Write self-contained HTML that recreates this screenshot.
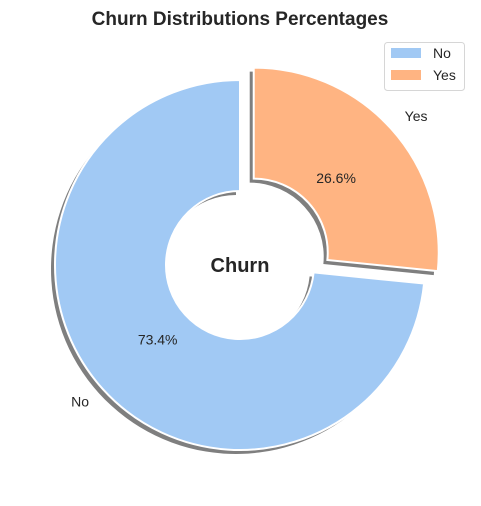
<!DOCTYPE html>
<html><head><meta charset="utf-8"><style>
body{margin:0;background:#fff;}
svg{display:block;font-family:"Liberation Sans","DejaVu Sans",sans-serif;}
</style></head><body>
<svg id="chart" width="481" height="506" viewBox="0 0 481 506">
<text x="240" y="25" text-anchor="middle" font-size="19" font-weight="bold" fill="#262626">Churn Distributions Percentages</text>
<g id="shadows"></g>
<g id="slices"></g>
<g id="labels"></g>
<text x="240" y="272" text-anchor="middle" font-size="20" font-weight="bold" fill="#262626">Churn</text>
<g>
<rect x="384.5" y="42.5" width="80" height="48" rx="3" fill="#fff" stroke="#d6d6d6"/>
<g><rect x="391" y="48" width="30" height="10" fill="#a1c9f4"/><text x="433" y="58" font-size="14" fill="#262626">No</text></g>
<g><rect x="391" y="70" width="30" height="10" fill="#ffb482"/><text x="433" y="80" font-size="14" fill="#262626">Yes</text></g>
</g>
</svg>
<script>
const categories = ["No", "Yes"];
const values = [73.4, 26.6];
const colors = ["#a1c9f4", "#ffb482"];
const explode = [0, 0.1];
const cx = 240, cy = 265, R = 185, r = 74;
const NS = "http://www.w3.org/2000/svg";
const total = values.reduce((a,b)=>a+b,0);
function pt(a, rad, ox, oy){ return [ox + rad*Math.cos(a*Math.PI/180), oy - rad*Math.sin(a*Math.PI/180)]; }
function wedge(a0, a1, ox, oy){
  const large = (a1-a0) > 180 ? 1 : 0;
  const p0 = pt(a0,R,ox,oy), p1 = pt(a1,R,ox,oy), q1 = pt(a1,r,ox,oy), q0 = pt(a0,r,ox,oy);
  return `M${p0[0]},${p0[1]} A${R},${R} 0 ${large} 0 ${p1[0]},${p1[1]} L${q1[0]},${q1[1]} A${r},${r} 0 ${large} 1 ${q0[0]},${q0[1]} Z`;
}
let start = 90;
const sh = document.getElementById('shadows'), sl = document.getElementById('slices'), lb = document.getElementById('labels');
values.forEach((v, i) => {
  const sweep = v/total*360, a0 = start, a1 = start + sweep, mid = (a0+a1)/2;
  const off = pt(mid, explode[i]*R, cx, cy);
  const s = document.createElementNS(NS,'path');
  s.setAttribute('d', wedge(a0, a1, off[0]-4, off[1]+4));
  s.setAttribute('fill', '#7f7f7f');
  
  
  sh.appendChild(s);
  const p = document.createElementNS(NS,'path');
  p.setAttribute('d', wedge(a0, a1, off[0], off[1]));
  p.setAttribute('fill', colors[i]);
  p.setAttribute('stroke', '#fff'); p.setAttribute('stroke-width', '2');
  
  
  sl.appendChild(p);
  const lp = pt(mid, R*1.1, off[0], off[1]);
  const t = document.createElementNS(NS,'text');
  t.setAttribute('x', lp[0]); t.setAttribute('y', lp[1]+5);
  t.setAttribute('text-anchor', Math.cos(mid*Math.PI/180) >= 0 ? 'start' : 'end');
  t.setAttribute('font-size', '14'); t.setAttribute('fill', '#262626');
  t.textContent = categories[i];
  
  
  lb.appendChild(t);
  const pp = pt(mid, R*0.6, off[0], off[1]);
  const u = document.createElementNS(NS,'text');
  u.setAttribute('x', pp[0]); u.setAttribute('y', pp[1]+5);
  u.setAttribute('text-anchor', 'middle');
  u.setAttribute('font-size', '14'); u.setAttribute('fill', '#262626');
  u.textContent = v.toFixed(1) + '%';
  
  
  lb.appendChild(u);
  start = a1;
});
</script>
</body></html>
